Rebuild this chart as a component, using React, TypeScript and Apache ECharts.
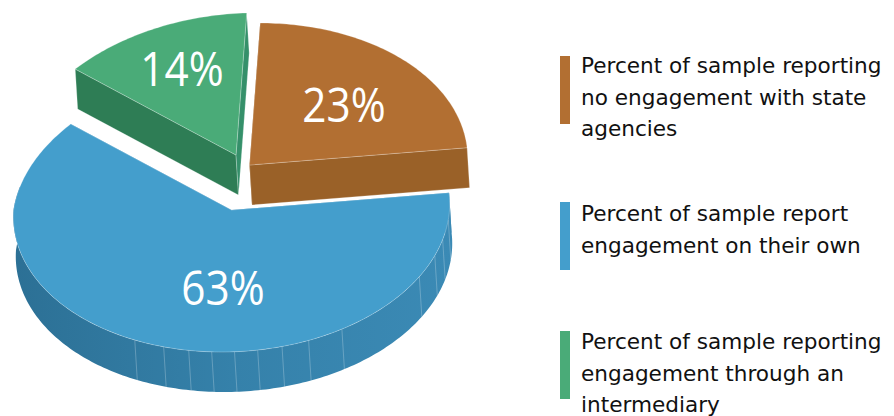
import React, { useEffect, useRef } from "react";
import * as echarts from "echarts";

const categories = [
  "Percent of sample reporting\nno engagement with state\nagencies",
  "Percent of sample report\nengagement on their own",
  "Percent of sample reporting\nengagement through an\nintermediary",
];
const shareValues = [23, 63, 14];
const pieOrder = [1, 2, 0];
const topColors = ["#b26f32", "#449ecc", "#4aab78"];
const startFaceColors = ["#9a6128", "#3a88b4", "#2e7d55"];
const endFaceColors = ["#9a6128", "#3a88b4", "#35906a"];
const explodeX = [18, 0, 4.5];
const explodeY = [-45, 0, -55];
const labelX = [344, 223, 182];
const labelY = [104, 287, 68];
const legendBarY = [56, 202, 331];
const legendTextY = [50, 198, 326];
const wallSeams = [113.7, 105.5, 98.7, 92.6, 86.6, 80.5, 74, 66.7, 57, 28, 18.7, 12, 4];

const CX = 231.5;
const CY = 210;
const RX = 218;
const RY = 142;
const SKEW = -0.07;
const DEPTH_X = 2.5;
const DEPTH_Y = 40;
const START_DEG = -7;
const WALL_LIMIT = 190;
const WARP = 0.025;
const WARP_ANGLE = 1.5;

const project = (t: number, ox: number, oy: number, down = 0): [number, number] => {
  const norm = ((t % 360) + 360) % 360;
  const bump = norm > 180 && norm < 270 ? Math.sin(((norm - 180) * 2 * Math.PI) / 180) : 0;
  const r = 1 - WARP * bump;
  const a = ((t - WARP_ANGLE * bump) * Math.PI) / 180;
  const dy = r * RY * Math.sin(a);
  return [
    CX + ox + r * RX * Math.cos(a) + SKEW * dy + DEPTH_X * down,
    CY + oy + dy + DEPTH_Y * down,
  ];
};
const arc = (a: number, b: number, ox: number, oy: number, down = 0) => {
  const pts: [number, number][] = [];
  const n = Math.max(2, Math.ceil(Math.abs(b - a)));
  for (let i = 0; i <= n; i++) pts.push(project(a + ((b - a) * i) / n, ox, oy, down));
  return pts;
};

const total = shareValues.reduce((s, v) => s + v, 0);
const EDGE = "rgba(255,255,255,0.4)";

const renderItem = (params: any, api: any) => {
  const pos = params.dataIndex;
  const idx = pieOrder[pos];
  let start = START_DEG;
  for (let i = 0; i < pos; i++) start += (shareValues[pieOrder[i]] / total) * 360;
  const sweep = (api.value(0) / total) * 360;
  const end = start + sweep;
  const ox = explodeX[idx];
  const oy = explodeY[idx];
  const apex: [number, number] = [CX + ox, CY + oy];
  const apexDown: [number, number] = [apex[0] + DEPTH_X, apex[1] + DEPTH_Y];
  const children: any[] = [];
  const face = (t: number, fill: string) => ({
    type: "polygon",
    silent: true,
    shape: { points: [apex, project(t, ox, oy), project(t, ox, oy, 1), apexDown] },
    style: { fill, stroke: EDGE, lineWidth: 0.6 },
  });
  children.push(face(start, startFaceColors[idx]));
  children.push(face(end, endFaceColors[idx]));
  if (start < WALL_LIMIT) {
    const wEnd = Math.min(end, WALL_LIMIT);
    children.push({
      type: "polygon",
      silent: true,
      shape: { points: [...arc(start, wEnd, ox, oy), ...arc(wEnd, start, ox, oy, 1)] },
      style: {
        fill: new echarts.graphic.LinearGradient(1, 0, 0, 0, [
          { offset: 0, color: "#3b8ab5" },
          { offset: 0.5, color: "#3581aa" },
          { offset: 1, color: "#2c7095" },
        ]),
      },
    });
    wallSeams.forEach((t) => {
      const p = project(t, ox, oy);
      const q = project(t, ox, oy, 1);
      children.push({
        type: "line",
        silent: true,
        shape: { x1: p[0], y1: p[1], x2: q[0], y2: q[1] },
        style: { stroke: "rgba(255,255,255,0.3)", lineWidth: 0.8 },
      });
    });
  }
  children.push({
    type: "polygon",
    silent: true,
    shape: { points: [apex, ...arc(start, end, ox, oy)] },
    style: { fill: topColors[idx], stroke: EDGE, lineWidth: 0.6 },
  });
  children.push({
    type: "text",
    silent: true,
    x: labelX[idx],
    y: labelY[idx],
    scaleX: 0.9,
    style: {
      text: `${api.value(0)}%`,
      x: 0,
      y: 0,
      fill: "#ffffff",
      fontFamily: "'Open Sans'",
      fontWeight: 400,
      fontSize: 47,
      align: "center",
      verticalAlign: "middle",
    },
  });
  return { type: "group", children };
};

export default function App() {
  const ref = useRef<HTMLDivElement>(null);
  useEffect(() => {
    const chart = echarts.init(ref.current!, null, { renderer: "svg" });
    const legend: any[] = [];
    categories.forEach((c, i) => {
      legend.push({
        type: "rect",
        shape: { x: 560, y: legendBarY[i], width: 10, height: 68 },
        style: { fill: topColors[i] },
      });
      legend.push({
        type: "text",
        x: 581,
        y: legendTextY[i],
        style: {
          text: c,
          fill: "#111111",
          fontFamily: "'DejaVu Sans'",
          fontSize: 21.6,
          lineHeight: 31.5,
        },
      });
    });
    chart.setOption({
      animation: false,
      backgroundColor: "#ffffff",
      series: [
        {
          type: "custom",
          coordinateSystem: "none",
          silent: true,
          clip: false,
          data: pieOrder.map((i) => [shareValues[i]]),
          renderItem,
        },
      ],
      graphic: legend,
    });
    return () => chart.dispose();
  }, []);
  return <div ref={ref} style={{ position: "fixed", left: 0, top: 0, width: 894, height: 416 }} />;
}
